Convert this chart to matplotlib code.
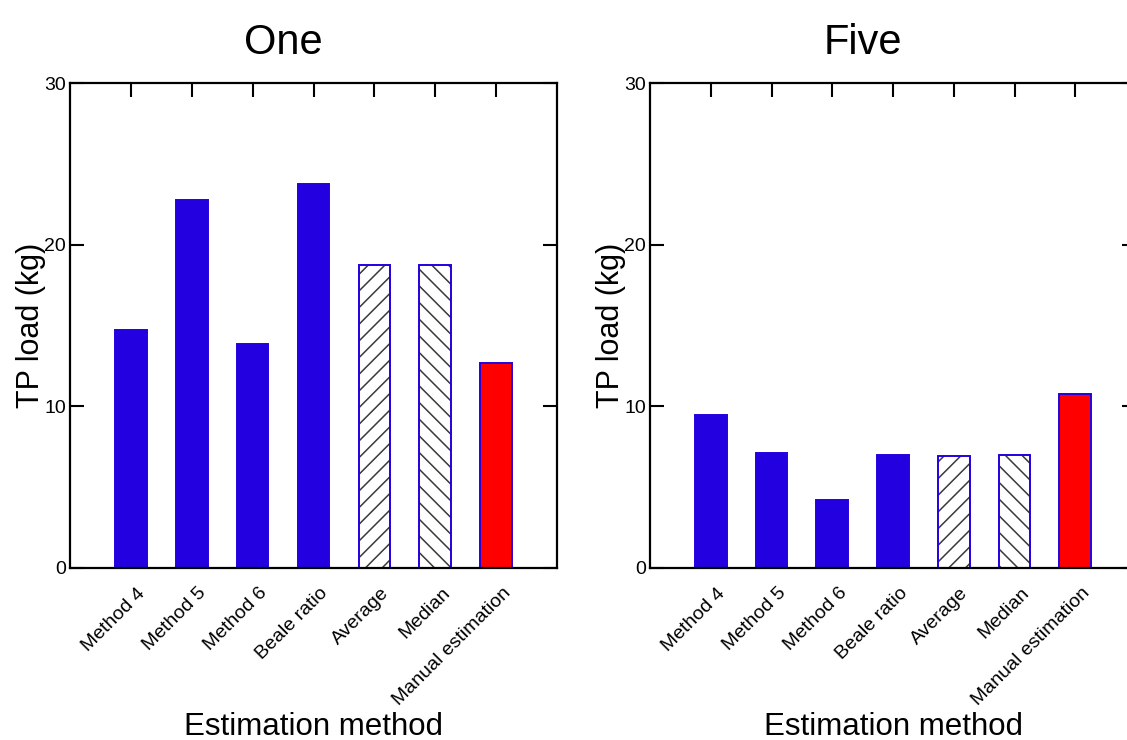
import matplotlib
matplotlib.use("Agg")
import matplotlib.pyplot as plt
from matplotlib.transforms import ScaledTranslation

plt.rcParams["font.family"] = ["Liberation Sans", "DejaVu Sans"]
plt.rcParams["hatch.linewidth"] = 1.1

# %%
methods = ["Method 4", "Method 5", "Method 6", "Beale ratio",
           "Average", "Median", "Manual estimation"]
one_load = [14.75, 22.75, 13.85, 23.78, 18.73, 18.73, 12.71]
five_load = [9.47, 7.14, 4.22, 7.0, 6.93, 7.02, 10.74]
panel_titles = ["One", "Five"]

blue = "#2300E0"
red = "#FF0000"
hatch_grey = "#3a3a3a"

# %%
fig = plt.figure(figsize=(11.27, 7.40), dpi=100)
ax1 = fig.add_axes([70 / 1127, 1 - 568 / 740, 487 / 1127, 485 / 740])
ax2 = fig.add_axes([650 / 1127, 1 - 568 / 740, 486 / 1127, 485 / 740])

for ax, loads, title in zip([ax1, ax2], [one_load, five_load], panel_titles):
    x = list(range(1, len(methods) + 1))
    faces = [blue] * 4 + ["white", "white", red]
    hatches = [None] * 4 + ["//", "\\\\", None]

    # hatch layer first (grey lines), then the outlined bars on top
    for xi, v, h in zip(x, loads, hatches):
        if h:
            ax.bar(xi, v, width=0.52, color="white", edgecolor=hatch_grey,
                   hatch=h, linewidth=0, zorder=1)
    ax.bar(x, loads, width=0.52,
           color=[f if h is None else "none" for f, h in zip(faces, hatches)],
           edgecolor=blue, linewidth=1.4, zorder=1.1)
    ax.set_axisbelow(True)

    ax.set_xlim(0, 8)
    ax.set_ylim(0, 30)
    ax.set_yticks([0, 10, 20, 30])
    ax.set_xticks(x)
    ax.set_xticklabels(methods, rotation=45, ha="right", va="top",
                       rotation_mode="anchor", fontsize=12)
    ax.tick_params(direction="in", length=10, width=1.5, top=True,
                   right=True, labelsize=14, pad=3)
    ax.tick_params(axis="x", pad=12)
    # nudge the slanted labels a little to the right (after tick_params)
    shift = ScaledTranslation(6 / 100, 0, fig.dpi_scale_trans)
    for lab in ax.get_xticklabels():
        lab.set_transform(lab.get_transform() + shift)
    for sp in ax.spines.values():
        sp.set_linewidth(1.6)

    ax.set_title(title, fontsize=30, x=0.437, pad=21)
    ax.set_ylabel("TP load (kg)", fontsize=22)
    ax.yaxis.set_label_coords(-0.05, 0.5)
    ax.set_xlabel("Estimation method", fontsize=22.5)
    ax.xaxis.set_label_coords(0.5, -0.297)

fig.savefig("out.png", dpi=100)
